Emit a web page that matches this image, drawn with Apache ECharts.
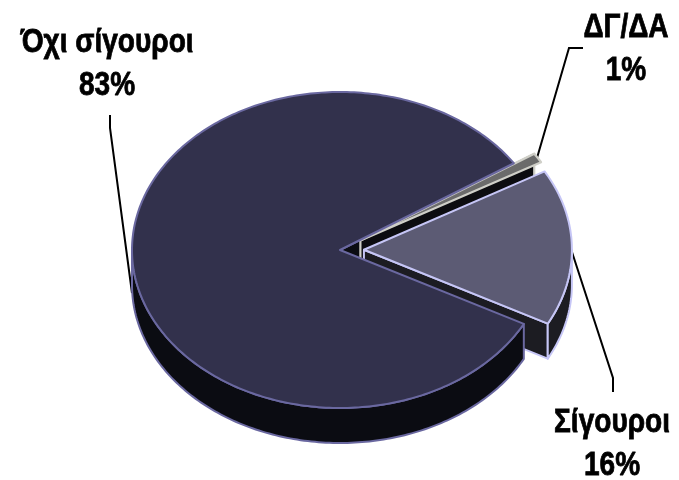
<!DOCTYPE html>
<html>
<head>
<meta charset="utf-8">
<script src="https://cdn.jsdelivr.net/npm/echarts@6/dist/echarts.min.js"></script>
<style>html,body{margin:0;background:#fff}#main{width:679px;height:480px}</style>
</head>
<body>
<div id="main"></div>
<script>
var names = ['ΔΓ/ΔΑ', 'Σίγουροι', 'Όχι σίγουροι']
var values = [1, 16, 83]

var startAngle = 33.3, explode = 0.115, depth = 0.2215
var tops = ['#6b6b6b', '#5c5b74', '#32314c']
var walls = ['#0c0c10', '#1c1c22', '#0b0c12']
var edges = ['#cfcfc8', '#c6c6f6', '#6a68a0']
var edgeWidths = [2.2, 2, 2]
var labelPos = [[626, 49], [612, 444], [107, 64]]
var leaders = [
    [[583, 48], [569, 48], [537, 158]],
    [[613, 392], [613, 378], [571, 249]],
    [[110, 115], [110, 128], [132, 293]]
]

var total = values.reduce(function (a, b) { return a + b }, 0)
var rad = function (d) { return d * Math.PI / 180 }

// start/end angle of each slice, going clockwise
var angles = []
var cur = startAngle
values.forEach(function (v) {
    angles.push([cur, cur - v / total * 360])
    cur -= v / total * 360
})

function renderSlice(params, api) {
    var i = params.dataIndex
    var a0 = angles[i][0], a1 = angles[i][1]
    var mid = (a0 + a1) / 2
    // slices 0 and 1 are pulled out of the pie, the big one stays
    var ox = i < 2 ? explode * Math.cos(rad(mid)) : 0
    var oy = i < 2 ? explode * Math.sin(rad(mid)) : 0
    var pt = function (a, drop) {
        return api.coord([ox + Math.cos(rad(a)), oy + Math.sin(rad(a)) - (drop ? depth : 0)])
    }
    var apex = function (drop) { return api.coord([ox, oy - (drop ? depth : 0)]) }
    var face = function (points, fill, z2) {
        return {
            type: 'polygon', z2: z2, silent: true,
            shape: { points: points },
            style: { fill: fill, stroke: edges[i], lineWidth: edgeWidths[i], lineJoin: 'round' }
        }
    }
    var base = [3, 5, 1][i]
    var children = []

    // cut wall that faces the viewer
    var wallAngle = i === 1 ? a1 : a0
    if (i === 2) wallAngle = a1
    children.push(face([apex(), pt(wallAngle), pt(wallAngle, true), apex(true)], walls[i], base))

    // outer rim, only the front half of the ellipse shows
    var rimFrom = Math.min(a0, 0), rimTo = Math.max(a1, -180)
    if (i === 2) { rimFrom = a0; rimTo = -180 }
    if (rimFrom > rimTo) {
        var upper = [], lower = []
        for (var a = rimFrom; a > rimTo; a -= 1) {
            upper.push(pt(a)); lower.unshift(pt(a, true))
        }
        upper.push(pt(rimTo)); lower.unshift(pt(rimTo, true))
        children.push(face(upper.concat(lower), walls[i], i === 2 ? 6 : base))
    }

    // top face
    var top = [apex()]
    for (var b = a0; b > a1; b -= 1) top.push(pt(b))
    top.push(pt(a1))
    children.push(face(top, tops[i], i === 2 ? 7 : base + 1))

    // leader line and label
    children.push({
        type: 'polyline', z2: 0, silent: true,
        shape: { points: leaders[i] },
        style: { fill: null, stroke: '#000', lineWidth: 2 }
    })
    children.push({
        type: 'text', z2: 8, silent: true,
        x: labelPos[i][0], y: labelPos[i][1], scaleX: 0.85,
        style: {
            text: names[i] + '\n' + values[i] + '%',
            fontFamily: 'Liberation Sans', fontWeight: 'bold', fontSize: 33, lineHeight: 43,
            fill: '#000', stroke: '#000', lineWidth: 0.8, align: 'center', verticalAlign: 'middle'
        }
    })
    return { type: 'group', children: children }
}

var chart = echarts.init(document.getElementById('main'), null, { renderer: 'canvas' })
chart.setOption({
    animation: false,
    grid: { left: 132, top: 92, width: 416, height: 316 },
    xAxis: { type: 'value', min: -1, max: 1, show: false },
    yAxis: { type: 'value', min: -1, max: 1, show: false },
    series: [{
        type: 'custom',
        clip: false,
        coordinateSystem: 'cartesian2d',
        renderItem: renderSlice,
        data: values.map(function (v, i) { return [i, v] })
    }]
})
</script>
</body>
</html>
